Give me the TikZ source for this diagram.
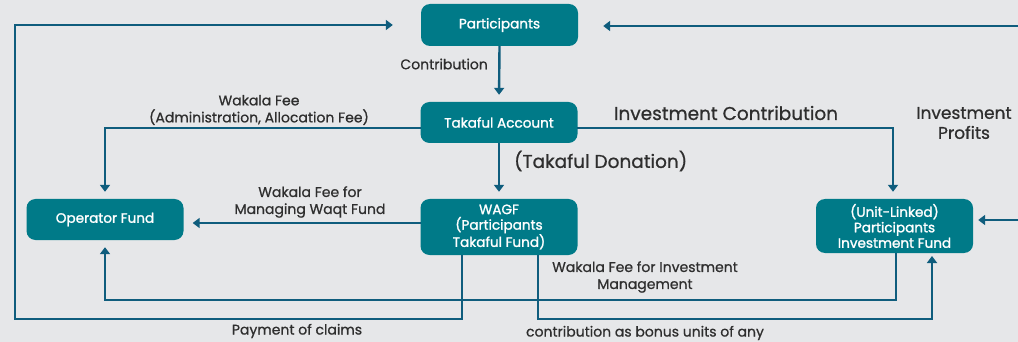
\documentclass[tikz,border=0pt]{standalone}
\usepackage{fontspec}
\setmainfont{Poppins}
\newfontfamily\medfont[FakeBold=0.8]{Poppins}
\newfontfamily\boxfont[FakeBold=1.4]{Poppins}
\usetikzlibrary{arrows.meta}
\definecolor{bg}{HTML}{E6E7E9}
\definecolor{boxfill}{HTML}{007A88}
\definecolor{linec}{HTML}{0F5D7D}
\definecolor{txt}{HTML}{2E2E2E}
\tikzset{
  fund/.style={rectangle, rounded corners=9pt, fill=boxfill, text=white,
    minimum width=157pt, inner sep=0pt, align=center,
    font=\boxfont\fontsize{13.6}{15.5}\selectfont},
  flow/.style={draw=linec, line width=2.4pt,
    -{Triangle[width=10pt,length=7pt]}, shorten >=7pt},
  lbl/.style={text=txt, align=center, inner sep=0pt, font=\medfont\fontsize{14}{17}\selectfont},
  biglbl/.style={text=txt, align=center, inner sep=0pt, font=\medfont\fontsize{18.5}{20}\selectfont},
}
\begin{document}
\begin{tikzpicture}[x=1pt,y=-1pt]
\useasboundingbox[fill=bg] (0,0) rectangle (1018,342);
% boxes
\node[fund, minimum height=42pt] (part) at (499.5,25) {Participants};
\node[fund, minimum height=41pt] (tak) at (499,122.5) {Takaful Account};
\node[fund, minimum height=56pt] (wagf) at (499,227) {WAGF\\(Participants\\Takaful Fund)};
\node[fund, minimum height=41pt] (oper) at (105,219.5) {Operator Fund};
\node[fund, minimum height=54pt] (unit) at (894.5,226) {(Unit-Linked)\\Participants\\Investment Fund};
% free ends
\coordinate (rtop) at (1030,26);
\coordinate (rmid) at (1030,220);
\coordinate (tw) at (421,128);
\coordinate (te) at (577,128);
\coordinate (ww) at (421,223);
\coordinate (wb1) at (462,255);
\coordinate (wb2) at (538,255);
\coordinate (ub) at (896,253);
\coordinate (ub2) at (932,253);
\coordinate (lc) at (15,319);
% connectors
\draw[flow] (part.south) -- (tak.north);
\draw[flow] (tak.south) -- (wagf.north);
\draw[flow] (tw) -| (oper.north);
\draw[flow] (te) -| ([xshift=-1.5pt]unit.north);
\draw[flow, shorten >=9pt] (ww) -- (oper.east |- ww);
\draw[flow] (ub) -- (896,300) -| (oper.south);
\draw[flow, shorten >=3pt] (wb2) -- (538,319) -| (ub2);
\draw[flow, shorten >=28pt] (wb1) -- (462,319) -- (lc) |- (part.west);
\draw[flow, shorten >=25pt] (rtop) -- (part.east |- rtop);
\draw[flow, shorten >=5pt] (rmid) -- (unit.east |- rmid);
% labels
\node[lbl, anchor=east] (lcontr) at (488,64) {Contribution};
\node[lbl] (lwak) at (259,110) {Wakala Fee\\(Administration, Allocation Fee)};
\node[biglbl] (linv) at (726,113) {Investment Contribution};
\node[biglbl, anchor=west] (ldon) at (514,161) {(Takaful Donation)};
\node[biglbl, font=\medfont\fontsize{17}{20}\selectfont] (lprof) at (964,123) {Investment\\Profits};
\node[lbl] (lwaqt) at (310,202) {Wakala Fee for\\Managing Waqt Fund};
\node[lbl] (lwim) at (645,277) {Wakala Fee for Investment\\Management};
\node[lbl] (lpay) at (297,331) {Payment of claims};
\node[lbl] (lbon) at (645,333) {contribution as bonus units of any};
\end{tikzpicture}
\end{document}
